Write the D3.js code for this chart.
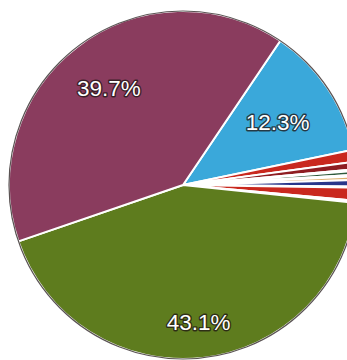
<!DOCTYPE html>
<html>
<head>
<meta charset="utf-8">
<script src="https://cdn.jsdelivr.net/npm/d3@7"></script>
<style>
  html, body { margin: 0; padding: 0; background: #ffffff; }
  svg { display: block; }
</style>
</head>
<body>
<svg id="chart" width="347" height="360"></svg>
<script>
// ---- data ----
const categories = ["Blue", "Red A", "Dark red", "Light A", "Dark green", "Light B", "Orange", "Navy", "Light C", "Red B", "Light D", "Green", "Purple"];
const values     = [12.3, 1.1, 0.7, 0.15, 0.35, 0.15, 0.35, 0.6, 0.1, 1.2, 0.2, 43.1, 39.7];
const labels     = ["12.3%", "", "", "", "", "", "", "", "", "", "", "43.1%", "39.7%"];

// ---- styles ----
const colors = ["#3aa8da", "#c9281e", "#8e1d22", "#f2f2f2", "#2f5a3c", "#f2f2f2", "#dcae6c", "#28368a", "#f2f2f2", "#c9281e", "#f2f2f2", "#5e7c1e", "#8a3c5e"];
const labelRadiusFactor = { "Blue": 0.655, "Green": 0.79, "Purple": 0.70 };

const svg = d3.select("#chart");
const cx = 183, cy = 185, r = 174;
const start = 34 * Math.PI / 180;

const data = categories.map((c, i) => ({ name: c, value: values[i], label: labels[i], color: colors[i] }));

const pie = d3.pie().sort(null).value(d => d.value)
  .startAngle(start).endAngle(start + 2 * Math.PI);
const arcs = pie(data);
const arc = d3.arc().innerRadius(0).outerRadius(r);

const g = svg.append("g").attr("transform", `translate(${cx},${cy})`);

g.selectAll("path.slice").data(arcs).enter().append("path")
  .attr("class", "slice")
  .attr("d", arc)
  .attr("fill", d => d.data.color)
  .attr("stroke", "#ffffff")
  .attr("stroke-width", 2)
  .attr("stroke-linejoin", "round");

g.append("circle").attr("r", r).attr("fill", "none")
  .attr("stroke", "rgba(20,10,10,0.7)").attr("stroke-width", 1.2);

g.selectAll("text.lbl").data(arcs.filter(d => d.data.label)).enter().append("text")
  .attr("class", "lbl")
  .attr("transform", d => {
    const a = (d.startAngle + d.endAngle) / 2;
    const rr = r * (labelRadiusFactor[d.data.name] || 0.7);
    return `translate(${rr * Math.sin(a)},${-rr * Math.cos(a)})`;
  })
  .attr("text-anchor", "middle")
  .attr("dy", "0.36em")
  .attr("font-family", "'Liberation Sans', Arial, sans-serif")
  .attr("font-size", 22.5)
  .attr("fill", "#ffffff")
  .attr("stroke", "rgba(30,20,20,0.75)")
  .attr("stroke-width", 2.8)
  .attr("paint-order", "stroke")
  .attr("stroke-linejoin", "round")
  .text(d => d.data.label);
</script>
</body>
</html>
